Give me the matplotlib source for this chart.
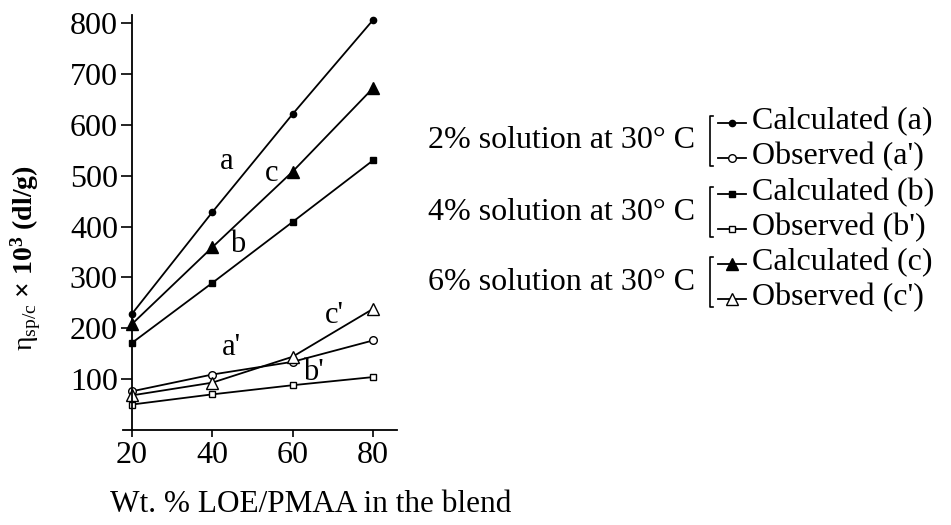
import matplotlib
matplotlib.use("Agg")
import matplotlib.pyplot as plt

plt.rcParams['font.family'] = ['Liberation Serif', 'DejaVu Serif']
plt.rcParams['mathtext.fontset'] = 'custom'
plt.rcParams['mathtext.rm'] = 'Liberation Serif'
plt.rcParams['mathtext.it'] = 'Liberation Serif:italic'
plt.rcParams['mathtext.bf'] = 'Liberation Serif:bold'

# Wt. % LOE/PMAA in the blend
wt = [20, 40, 60, 80]

# reduced viscosity x 10^3 (dl/g)
calc_a = [228, 428, 621, 806]   # 2 % calculated
obs_a = [76, 109, 134, 176]     # 2 % observed
calc_b = [171, 289, 409, 530]   # 4 % calculated
obs_b = [50, 70, 88, 104]       # 4 % observed
calc_c = [208, 359, 508, 672]   # 6 % calculated
obs_c = [68, 93, 144, 238]      # 6 % observed

curve_names = ["a", "c", "b", "a'", "c'", "b'"]
curve_xy = [(43.6, 527), (54.8, 505), (46.4, 364),
            (44.8, 163), (70.5, 226), (65.1, 114)]

groups = ["2% solution at 30° C", "4% solution at 30° C", "6% solution at 30° C"]
calc_names = ["Calculated (a)", "Calculated (b)", "Calculated (c)"]
obs_names = ["Observed (a')", "Observed (b')", "Observed (c')"]

fig = plt.figure(figsize=(9.51, 5.25), dpi=100)
ax = fig.add_axes([0.1293, 0.181, 0.2882, 0.7904])

lw = 1.3
styles = [
    (calc_a, dict(marker='o', ms=4.5, mfc='black')),
    (obs_a, dict(marker='o', ms=5.5, mfc='white')),
    (calc_b, dict(marker='s', ms=4.5, mfc='black')),
    (obs_b, dict(marker='s', ms=4.5, mfc='white')),
    (calc_c, dict(marker='^', ms=8, mfc='black')),
    (obs_c, dict(marker='^', ms=8, mfc='white')),
]
for vals, st in styles:
    ax.plot(wt, vals, color='black', lw=lw, mec='black', mew=1.0,
            clip_on=False, **st)

for name, (x, y) in zip(curve_names, curve_xy):
    ax.text(x, y, name, fontsize=22, ha='center', va='center')

ax.set_xlim(17.8, 86)
ax.set_ylim(0, 816)
ax.spines['left'].set_position(('data', 20))
ax.spines['top'].set_visible(False)
ax.spines['right'].set_visible(False)
for s in ['left', 'bottom']:
    ax.spines[s].set_linewidth(1.3)
ax.set_xticks(wt)
ax.set_yticks([100, 200, 300, 400, 500, 600, 700, 800])
ax.tick_params(axis='y', direction='out', length=8, width=1.2, labelsize=23, pad=2)
ax.tick_params(axis='x', direction='out', length=5, width=1.2, labelsize=23, pad=3)

ax.set_ylabel('$\\mathrm{η}_{\\mathrm{sp/c}}$ × 10$^{\\mathbf{3}}$ (dl/g)',
              fontsize=20, fontweight='bold')
ax.yaxis.set_label_coords(-0.29, 0.414)

fig.text(311 / 951, 1 - 505 / 525, "Wt. % LOE/PMAA in the blend",
         fontsize=22.5, ha='center', va='center')

# bracketed key drawn in pixel coordinates
key = fig.add_axes([0, 0, 1, 1])
key.set_xlim(0, 951)
key.set_ylim(525, 0)
key.axis('off')
centers = [141, 212, 282]
for i, cy in enumerate(centers):
    key.text(695, cy, groups[i], fontsize=23, ha='right', va='center')
    key.plot([713, 710, 710, 713], [cy - 25, cy - 25, cy + 25, cy + 25],
             color='black', lw=1.2)
    cs = styles[2 * i][1]
    os_ = styles[2 * i + 1][1]
    key.plot([718, 732, 746], [cy - 18] * 3, color='black', lw=lw,
             markevery=[1], mec='black', **cs)
    key.plot([718, 732, 746], [cy + 17] * 3, color='black', lw=lw,
             markevery=[1], mec='black', **os_)
    key.text(752, cy - 19, calc_names[i], fontsize=23, ha='left', va='center')
    key.text(752, cy + 16, obs_names[i], fontsize=23, ha='left', va='center')

fig.savefig("out.png", dpi=100)
